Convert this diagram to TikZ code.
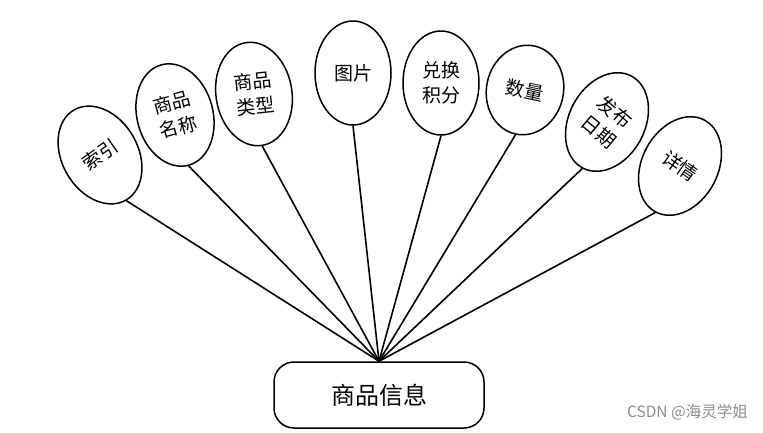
\documentclass[tikz,border=0pt]{standalone}
\usepackage{fontspec}
\newfontfamily\cjk{Noto Sans CJK SC}
\usetikzlibrary{shapes.geometric}
\begin{document}
\begin{tikzpicture}[x=1pt,y=-1pt,
  attr/.style={draw,line width=1.5pt,ellipse,minimum width=76pt,minimum height=104pt,inner sep=0pt,fill=white},
  attrtext/.style={font=\cjk\fontsize{19}{25}\selectfont,align=center,inner sep=0pt},
  entity/.style={draw,line width=1.5pt,rounded corners=20pt,minimum width=210pt,minimum height=66pt,fill=white,font=\cjk\fontsize{24}{28}\selectfont},
  link/.style={line width=1.6pt}]
\useasboundingbox (0,0) rectangle (763,432);
\node[entity] (ent) at (379,395) {商品信息};
\node[attr,rotate=30] (e1) at (100,155) {};
\node[attrtext,rotate=35] at (e1) {索引};
\node[attr,rotate=15] (e2) at (175,115) {};
\node[attrtext,rotate=15] at (e2) {商品\\名称};
\node[attr,rotate=9] (e3) at (254,94) {};
\node[attrtext,rotate=6] at (e3) {商品\\类型};
\node[attr] (e4) at (353,73) {};
\node[attrtext] at (e4) {图片};
\node[attr] (e5) at (441,83) {};
\node[attrtext] at (e5) {兑换\\积分};
\node[attr,rotate=-12,minimum height=90pt,minimum width=77pt] (e6) at (525,90) {};
\node[attrtext,rotate=-12] at (e6) {数量};
\node[attr,rotate=-28] (e7) at (607,122) {};
\node[attrtext,rotate=-40] at (e7) {发布\\日期};
\node[attr,rotate=-28] (e8) at (680,166) {};
\node[attrtext,rotate=-35] at (e8) {详情};
\foreach \i in {1,...,8} \draw[link] (e\i.south) -- (ent.north);
\node[font=\cjk\fontsize{15.5}{18}\selectfont,text=black!45,anchor=east,inner sep=0pt] (wm) at (748,412) {CSDN @海灵学姐};
\end{tikzpicture}
\end{document}
